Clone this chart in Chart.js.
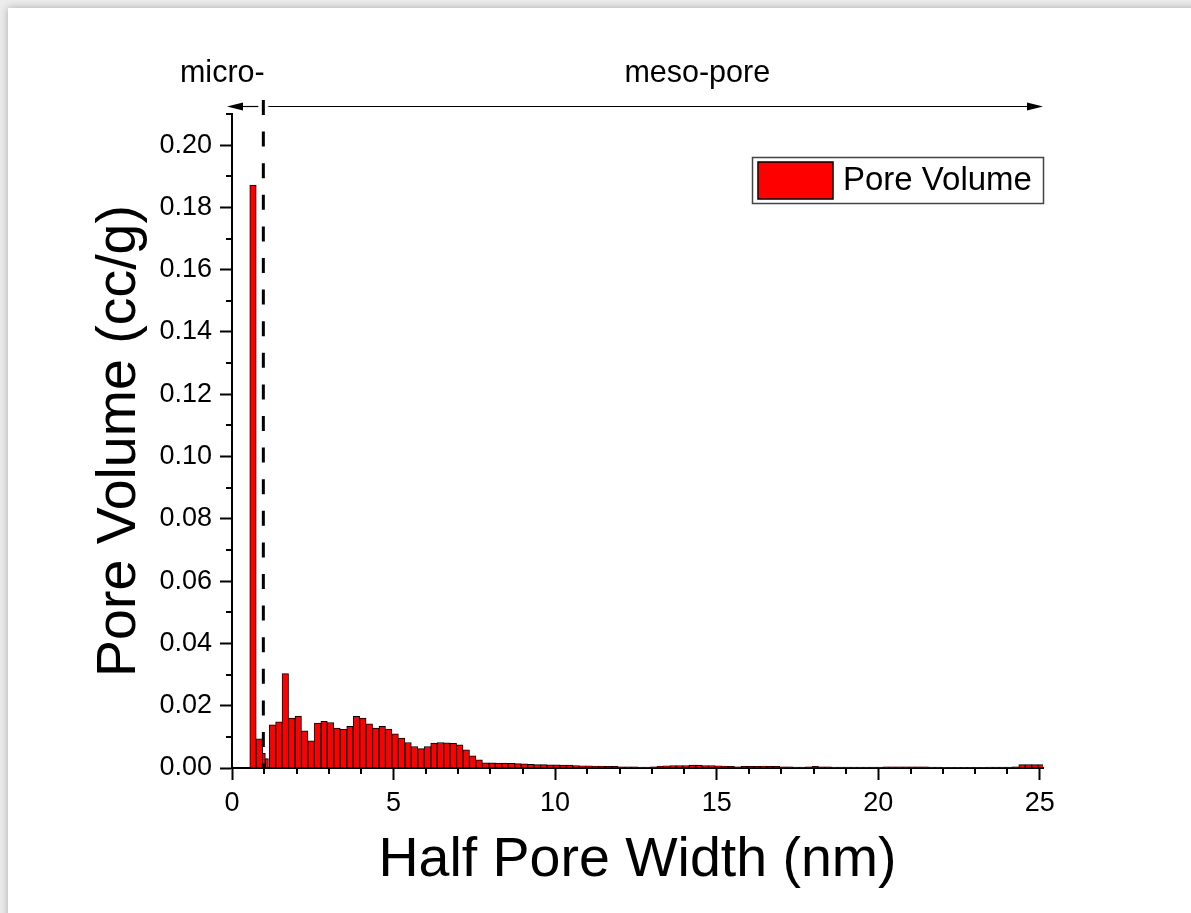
<!DOCTYPE html>
<html>
<head>
<meta charset="utf-8">
<title>Pore volume distribution</title>
<script src="https://cdn.jsdelivr.net/npm/chart.js@4.4.1/dist/chart.umd.min.js"></script>
<style>
  html, body { margin: 0; padding: 0; background: #ececec; overflow: hidden; }
  .sheet {
    position: absolute; left: 8px; top: 8px; width: 1400px; height: 1100px;
    background: #fff; box-shadow: 0 0 8px rgba(0, 0, 0, 0.28);
  }
  #chart { position: absolute; left: 0; top: 0; }
</style>
</head>
<body>
<div class="sheet"></div>
<canvas id="chart" width="1191" height="913"></canvas>
<script>
// bar centres, half pore width (nm)
const widths = [
  0.65, 0.85, 1.25, 1.45, 1.65, 1.85, 2.05, 2.25, 2.45, 2.65, 2.85,
  3.05, 3.25, 3.45, 3.65, 3.85, 4.05, 4.25, 4.45, 4.65, 4.85,
  5.05, 5.25, 5.45, 5.65, 5.85, 6.05, 6.25, 6.45, 6.65, 6.85,
  7.05, 7.25, 7.45, 7.65, 7.85, 8.05, 8.25, 8.45, 8.65, 8.85,
  9.05, 9.25, 9.45, 9.65, 9.85, 10.05, 10.25, 10.45, 10.65, 10.85,
  11.05, 11.25, 11.45, 11.65, 11.85, 12.05, 12.25, 12.45, 12.65, 12.85,
  13.05, 13.25, 13.45, 13.65, 13.85, 14.05, 14.25, 14.45, 14.65, 14.85,
  15.05, 15.25, 15.45, 15.65, 15.85, 16.05, 16.25, 16.45, 16.65, 16.85,
  17.05, 17.25, 17.45, 17.65, 17.85, 18.05, 18.25, 18.45, 18.65, 18.85,
  19.05, 19.25, 19.45, 19.65, 19.85, 20.05, 20.25, 20.45, 20.65, 20.85,
  21.05, 21.25, 21.45, 21.65, 21.85, 22.05, 22.25, 22.45, 22.65, 22.85,
  23.05, 23.25, 23.45, 23.65, 23.85, 24.05, 24.25, 24.45, 24.65, 24.85, 25.05
];
// pore volume (cc/g)
const volumes = [
  0.1872, 0.0094, 0.0139, 0.0148, 0.0303, 0.0160, 0.0167, 0.0119, 0.0087, 0.0144, 0.0150,
  0.0146, 0.0128, 0.0124, 0.0134, 0.0166, 0.0160, 0.0142, 0.0128, 0.0134, 0.0125,
  0.0110, 0.0096, 0.0082, 0.0069, 0.0062, 0.0069, 0.0080, 0.0082, 0.0081, 0.0079,
  0.0074, 0.0058, 0.0039, 0.0026, 0.0017, 0.0017, 0.0016, 0.0016, 0.0015, 0.0014,
  0.0013, 0.0012, 0.0011, 0.0011, 0.0010, 0.0010, 0.0009, 0.0009, 0.0008, 0.0007,
  0.0007, 0.0006, 0.0006, 0.0005, 0.0005, 0.0004, 0.0004, 0.0004, 0.0003, 0.0003,
  0.0004, 0.0006, 0.0007, 0.0008, 0.0008, 0.0008, 0.0009, 0.0009, 0.0008, 0.0008,
  0.0007, 0.0006, 0.0005, 0.0004, 0.0005, 0.0005, 0.0005, 0.0006, 0.0005, 0.0005,
  0.0004, 0.0004, 0.0003, 0.0003, 0.0004, 0.0005, 0.0004, 0.0004, 0.0003, 0.0003,
  0.0003, 0.0003, 0.0003, 0.0003, 0.0003, 0.0003, 0.0004, 0.0004, 0.0004, 0.0004,
  0.0004, 0.0004, 0.0004, 0.0003, 0.0003, 0.0002, 0.0002, 0.0002, 0.0002, 0.0002,
  0.0002, 0.0002, 0.0003, 0.0003, 0.0003, 0.0003, 0.0004, 0.0011, 0.0011, 0.0011, 0.0011
];
// the two thin bins right at the micro/meso boundary
const narrowWidths = [0.985, 1.08];
const narrowVolumes = [0.0047, 0.0030];

const xTicks = [0, 5, 10, 15, 20, 25];
const yTicks = [0, 0.02, 0.04, 0.06, 0.08, 0.10, 0.12, 0.14, 0.16, 0.18, 0.20];

const seriesLabel = 'Pore Volume';
const boundaryX = 0.97;      // micro / meso limit (nm)
const microLabelX = -0.3;
const mesoLabelX = 14.4;

const FONT = "'Liberation Sans', Arial, sans-serif";
const RED = '#ff0000';

// minor ticks, dashed boundary, arrows, region labels and legend box
const decorations = {
  id: 'decorations',
  afterDraw(chart) {
    const { ctx, chartArea: area, scales: { x, y } } = chart;
    ctx.save();

    // minor ticks
    ctx.strokeStyle = '#000';
    ctx.lineWidth = 2;
    ctx.beginPath();
    for (let v = 1; v <= 25; v++) {
      if (v % 5 === 0) continue;
      const px = Math.round(x.getPixelForValue(v));
      ctx.moveTo(px, area.bottom);
      ctx.lineTo(px, area.bottom + 6);
    }
    for (let k = 1; k <= 21; k += 2) {
      const py = Math.round(y.getPixelForValue(k / 100));
      ctx.moveTo(area.left, py);
      ctx.lineTo(area.left - 6, py);
    }
    ctx.stroke();

    // dashed boundary
    const bx = x.getPixelForValue(boundaryX);
    ctx.setLineDash([15, 16.6]);
    ctx.lineWidth = 3;
    ctx.beginPath();
    ctx.moveTo(bx, area.top - 14);
    ctx.lineTo(bx, area.bottom);
    ctx.stroke();
    ctx.setLineDash([]);

    // arrows
    const ay = area.top - 7.5;
    const arrow = (from, to) => {
      const dir = Math.sign(to - from);
      ctx.lineWidth = 1.2;
      ctx.beginPath();
      ctx.moveTo(from, ay);
      ctx.lineTo(to - dir * 10, ay);
      ctx.stroke();
      ctx.beginPath();
      ctx.moveTo(to, ay);
      ctx.lineTo(to - dir * 16, ay - 4);
      ctx.lineTo(to - dir * 16, ay + 4);
      ctx.closePath();
      ctx.fill();
    };
    ctx.fillStyle = '#000';
    arrow(bx - 5, area.left - 5);
    arrow(bx + 5, area.right);

    // region labels
    ctx.font = '30.5px ' + FONT;
    ctx.textAlign = 'center';
    ctx.textBaseline = 'alphabetic';
    ctx.fillText('micro-', x.getPixelForValue(microLabelX), area.top - 32);
    ctx.fillText('meso-pore', x.getPixelForValue(mesoLabelX), area.top - 32);

    // legend
    const ds = chart.data.datasets[0];
    const lw = 291, lh = 46;
    const lx = area.right - lw, ly = area.top + 43;
    ctx.strokeStyle = '#444';
    ctx.lineWidth = 1.5;
    ctx.strokeRect(lx + 0.5, ly + 0.5, lw, lh);
    ctx.fillStyle = ds.backgroundColor;
    ctx.fillRect(lx + 6, ly + 5, 75, 37);
    ctx.strokeStyle = '#000';
    ctx.strokeRect(lx + 6, ly + 5, 75, 37);
    ctx.fillStyle = '#000';
    ctx.font = '33px ' + FONT;
    ctx.textAlign = 'left';
    ctx.textBaseline = 'middle';
    ctx.fillText(ds.label, lx + 91, ly + lh / 2 + 1);

    ctx.restore();
  }
};

const barStyle = {
  backgroundColor: RED,
  borderColor: '#000',
  borderWidth: 1,
  barPercentage: 1,
  categoryPercentage: 1,
  grouped: false
};

new Chart(document.getElementById('chart'), {
  type: 'bar',
  data: {
    datasets: [
      Object.assign({
        label: seriesLabel,
        xAxisID: 'x',
        data: widths.map((w, i) => ({ x: w, y: volumes[i] }))
      }, barStyle),
      Object.assign({
        label: seriesLabel + ' (boundary bins)',
        xAxisID: 'x2',
        data: narrowWidths.map((w, i) => ({ x: w, y: narrowVolumes[i] }))
      }, barStyle)
    ]
  },
  options: {
    responsive: false,
    animation: false,
    layout: { padding: { top: 114, right: 148, left: 0, bottom: 0 } },
    plugins: { legend: { display: false }, tooltip: { enabled: false } },
    scales: {
      x: {
        type: 'linear',
        min: 0,
        max: 25.1,
        offset: false,
        afterFit: s => { s.height = 145; },
        afterBuildTicks: s => { s.ticks = xTicks.map(v => ({ value: v })); },
        grid: { offset: false, drawOnChartArea: false, tickLength: 12, tickWidth: 2, tickColor: '#000' },
        border: { color: '#000', width: 2 },
        ticks: { color: '#000', font: { family: FONT, size: 27 }, padding: 7, maxRotation: 0 },
        title: {
          display: true,
          text: 'Half Pore Width (nm)',
          color: '#000',
          font: { family: FONT, size: 55.5 },
          padding: { top: 0, bottom: 19 }
        }
      },
      x2: { type: 'linear', min: 0, max: 25.1, offset: false, display: false },
      y: {
        min: 0,
        max: 0.21,
        afterFit: s => { s.width = 232; },
        afterBuildTicks: s => { s.ticks = yTicks.map(v => ({ value: v })); },
        grid: { offset: false, drawOnChartArea: false, tickLength: 12, tickWidth: 2, tickColor: '#000' },
        border: { color: '#000', width: 2 },
        ticks: {
          color: '#000',
          font: { family: FONT, size: 27 },
          padding: 8,
          callback: v => v.toFixed(2)
        },
        title: {
          display: true,
          text: 'Pore Volume (cc/g)',
          color: '#000',
          font: { family: FONT, size: 55.5 },
          padding: { top: 86, bottom: 0 }
        }
      }
    }
  },
  plugins: [decorations]
});
</script>
</body>
</html>
